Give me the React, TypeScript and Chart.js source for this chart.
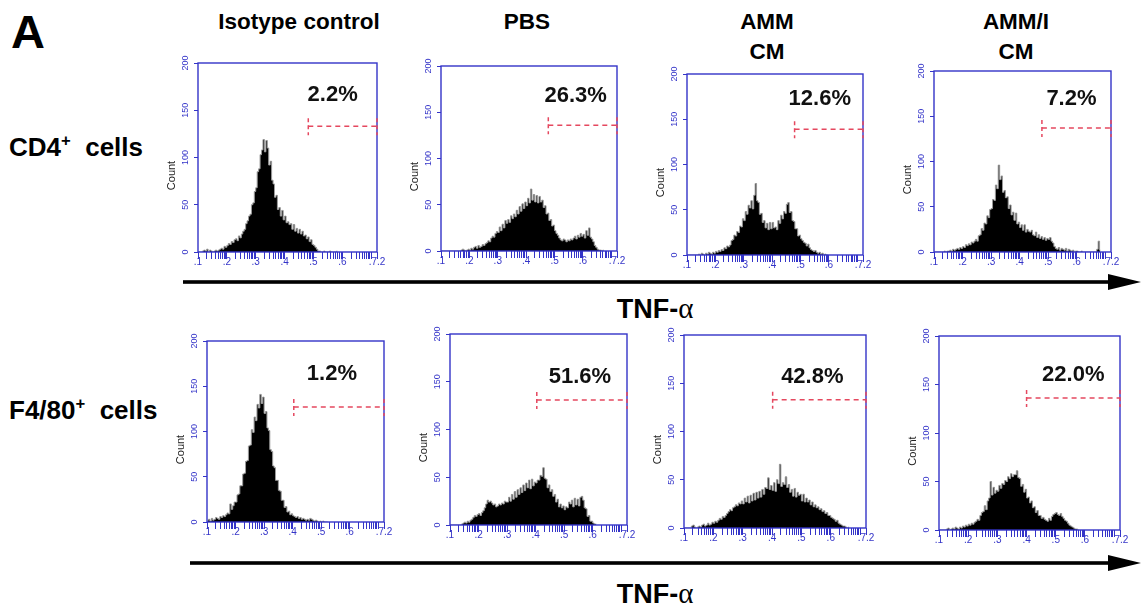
import React, { useEffect, useRef } from "react";
import { Chart, registerables } from "chart.js";

Chart.register(...registerables);

// ---------- data ----------
const BIN_START = 1.0;
const BIN_WIDTH = 0.05;
const X_MIN = 1;
const X_MAX = 7.2;
const Y_TICKS = [0, 50, 100, 150, 200];
const X_MAJOR_VALUES = [1, 2, 3, 4, 5, 6, 7.2];
const X_MAJOR_LABELS = [".1", ".2", ".3", ".4", ".5", ".6", ".7.2"];
const DECADES = [1, 2, 3, 4, 5, 6, 7];
const MINOR_FACTORS = [1, 2, 3, 4, 5, 6, 7, 8, 9];

const columnHeaders = [["Isotype control"], ["PBS"], ["AMM", "CM"], ["AMM/I", "CM"]];
const rowLabels = [["CD4", "+", "  cells"], ["F4/80", "+", "  cells"]];
const axisLabel = "TNF-";
const axisGreek = "α";

const cd4Isotype = [0,0,0,1, 2,1,3,0,2,1, 0,1,2,1,2,3, 4,3,6,5, 7,9,8,11,10,13, 14,12,17,15,19,22, 24,30,33,38, 40,50,52,64, 68,85,88,103, 108,119,106,118, 110,92,96,76, 72,58,60,45, 47,38,44,34, 38,31,32,29, 30,24,29,22, 25,20,24,19, 22,17,18,14, 16,11,13,8, 7,5,3,1, 1,0,0,1,0,0,0,1,0,0,0,0,1];
const cd4Pbs = [0,0,0,0,0,0,0,0,0,0, 0,0,0,0,1,2,1,0,1,2, 1,3,2,4,5,3,6,4,5,7, 6,8,9,11,10,14,16,15,19,21, 20,26,22,29,25,33,30,34,31,38, 35,40,37,44,40,48,43,51,46,53, 49,57,52,67,55,61,53,60,52,59, 53,55,47,49,40,41,33,34,27,28, 22,19,17,14,12,11,13,12,10,12, 11,13,12,14,16,13,17,15,19,16, 18,14,22,17,25,15,13,10,6,4, 2,1,1,0,1];
const cd4Amm = [0,0,0,0,0,0,0,0,1,0, 2,1,0,2,1,3,2,1,3,2, 4,3,5,4,6,5,8,7,10,9, 11,16,17,22,21,26,25,32,31,40, 38,48,45,55,52,60,51,66,79,60, 58,45,46,36,38,30,35,28,36,29, 36,30,31,28,38,35,44,40,48,46, 56,58,47,48,38,37,29,29,21,22, 18,16,14,13,10,12,8,6,5,4, 5,3,2,3,1,2,0,1,0,0];
const cd4AmmI = [0,0,0,0,0,0,0,1,0,1, 1,2,1,3,2,3,4,3,5,4, 6,5,8,7,9,8,11,10,12,14, 12,18,19,26,24,32,31,40,38,47, 48,58,57,74,70,96,80,84,66,68, 60,61,48,52,41,44,35,43,31,33, 27,30,24,30,22,25,23,22,24,19, 18,22,16,19,15,17,14,16,13,15, 14,16,12,10,6,4,3,5,2,4, 3,2,4,1,3,2,1,2,0,1, 1,0,0,1,0,0,0,0,0,0, 0,0,0,0,3,12,2];
const f480Isotype = [2,3,1,4,2,3,5,4,3,6, 5,7,6,8,10,9,20,14,18,22, 22,30,31,40,40,53,54,67,68,84, 85,102,99,116,112,130,126,141,131,138, 120,122,104,101,80,78,62,60,46,46, 35,34,24,24,16,17,11,12,8,9, 7,6,5,6,4,5,3,4,3,2, 3,2,4,3,2,1,2,1,0,1, 0,1,0,0,0];
const f480Pbs = [0,0,0,0,0,0,0,0,1,2, 3,2,4,3,5,6,8,10,9,11, 12,10,13,15,18,22,26,24,25,23, 21,22,19,20,22,21,23,22,25,24, 24,29,25,32,27,35,29,37,32,39, 34,42,36,44,39,47,38,48,41,45, 44,47,47,52,51,60,49,48,39,42, 35,37,30,32,24,27,19,22,18,20, 16,19,18,24,22,26,19,28,21,27, 20,29,30,26,18,17,9,10,4,4, 2,1,1];
const f480Amm = [0,0,0,0,0,2,3,1,0,1, 2,1,3,4,2,3,5,3,4,6, 5,7,6,8,10,9,12,11,13,15, 17,19,18,21,22,24,23,26,25,28, 25,31,27,33,26,34,28,36,29,37, 31,38,32,40,35,42,41,52,40,44, 39,47,38,50,46,66,43,47,45,53, 42,45,37,40,33,41,32,37,34,35, 28,35,27,31,27,29,24,27,22,24, 21,22,19,20,17,18,15,16,13,13, 11,10,9,7,8,5,4,3,2,2, 1,0,1];
const f480AmmI = [0,0,0,0,0,1,2,0,1,2, 1,3,2,1,3,2,4,3,5,4, 6,5,7,6,8,9,11,10,15,18, 19,25,21,30,33,50,36,44,38,41, 40,46,43,48,47,51,50,55,53,58, 55,57,57,61,54,53,45,47,39,42, 33,34,28,30,23,24,18,20,15,15, 12,13,11,10,9,12,10,14,16,17, 18,16,15,17,14,12,10,9,7,5, 4,3,2,1,1,0];

const histograms = [cd4Isotype, cd4Pbs, cd4Amm, cd4AmmI, f480Isotype, f480Pbs, f480Amm, f480AmmI];
const gateStarts = [4.82, 4.78, 4.79, 4.78, 4.04, 4.04, 4.02, 4.0];
const gateLevels = [133, 136, 139, 137, 127, 131, 133, 136];
const gateLabels = ["2.2%", "26.3%", "12.6%", "7.2%", "1.2%", "51.6%", "42.8%", "22.0%"];

// ---------- layout / style ----------
const PANELS = [
  { area: [198, 63, 377, 252], dx: -10, dy: 25 },
  { area: [441, 66, 617, 251], dx: -7, dy: 23 },
  { area: [687, 74, 863, 255], dx: -9, dy: 24 },
  { area: [934, 71, 1111, 252], dx: -5, dy: 23 },
  { area: [207, 341, 384, 522], dx: -7, dy: 27 },
  { area: [450, 334, 627, 525], dx: -2, dy: 17 },
  { area: [684, 335, 866, 528], dx: -7, dy: 17 },
  { area: [939, 336, 1120, 530], dx: 0, dy: 17 },
];
const PAD_L = 45, PAD_T = 12, PAD_R = 14, PAD_B = 28;
const BLUE = "#3434c8";
const RED = "#e5485f";
const FONT = '"Liberation Sans", Arial, Helvetica, sans-serif';

const xTickValues: number[] = [];
DECADES.forEach((d) => MINOR_FACTORS.forEach((k) => {
  const v = d + Math.log10(k);
  if (v <= X_MAX + 1e-9) xTickValues.push(v);
}));
xTickValues.push(X_MAX);

const decorPlugin = {
  id: "panelDecor",
  afterDraw(chart: any, _args: any, opts: any) {
    const { ctx, chartArea: a, scales } = chart;
    const x = scales.x, y = scales.y;
    ctx.save();
    ctx.strokeStyle = BLUE;
    ctx.lineWidth = 1.4;
    ctx.strokeRect(a.left, a.top, a.right - a.left, a.bottom - a.top);
    ctx.fillStyle = BLUE;
    ctx.font = `9px ${FONT}`;
    ctx.textAlign = "center";
    ctx.textBaseline = "middle";
    for (const v of Y_TICKS) {
      const py = y.getPixelForValue(v);
      ctx.save();
      ctx.translate(a.left - 12, py);
      ctx.rotate(-Math.PI / 2);
      ctx.fillText(String(v), 0, 0);
      ctx.restore();
    }
    ctx.fillStyle = "#222";
    ctx.font = `11px ${FONT}`;
    ctx.save();
    ctx.translate(a.left - 26, (a.top + a.bottom) / 2 + 18);
    ctx.rotate(-Math.PI / 2);
    ctx.fillText("Count", 0, 0);
    ctx.restore();
    const gx0 = x.getPixelForValue(opts.gateStart);
    const gx1 = x.getPixelForValue(X_MAX);
    const gy = y.getPixelForValue(opts.gateLevel);
    ctx.strokeStyle = RED;
    ctx.lineWidth = 1.5;
    ctx.setLineDash([5, 4]);
    ctx.beginPath();
    ctx.moveTo(gx0, gy);
    ctx.lineTo(gx1, gy);
    ctx.stroke();
    ctx.setLineDash([4, 3]);
    ctx.beginPath();
    ctx.moveTo(gx0, gy - 8);
    ctx.lineTo(gx0, gy + 9);
    ctx.moveTo(gx1, gy - 8);
    ctx.lineTo(gx1, gy + 9);
    ctx.stroke();
    ctx.setLineDash([]);
    ctx.fillStyle = "#111";
    ctx.font = `bold 22px ${FONT}`;
    ctx.textAlign = "center";
    ctx.textBaseline = "alphabetic";
    ctx.fillText(opts.label, (gx0 + gx1) / 2 + opts.dx, gy - opts.dy);
    ctx.restore();
  },
};

function HistPanel({ idx }: { idx: number }) {
  const ref = useRef<HTMLCanvasElement | null>(null);
  const p = PANELS[idx];
  const [L, T, R, B] = p.area;
  const w = R - L + PAD_L + PAD_R;
  const h = B - T + PAD_T + PAD_B;
  useEffect(() => {
    const values = histograms[idx];
    const chart = new Chart(ref.current as HTMLCanvasElement, {
      type: "line",
      data: {
        datasets: [
          {
            data: values.map((v, i) => ({ x: BIN_START + BIN_WIDTH * (i + 0.5), y: v })),
            stepped: "middle",
            fill: "origin",
            backgroundColor: "#000",
            borderColor: "#9a9a9a",
            borderWidth: 1,
            pointRadius: 0,
          } as any,
        ],
      },
      options: {
        animation: false,
        responsive: false,
        maintainAspectRatio: false,
        layout: { padding: { left: 0, top: PAD_T, right: PAD_R, bottom: 0 } },
        plugins: {
          legend: { display: false },
          tooltip: { enabled: false },
          panelDecor: {
            gateStart: gateStarts[idx],
            gateLevel: gateLevels[idx],
            label: gateLabels[idx],
            dx: p.dx,
            dy: p.dy,
          },
        } as any,
        scales: {
          x: {
            type: "linear",
            min: X_MIN,
            max: X_MAX,
            afterBuildTicks: (s: any) => {
              s.ticks = xTickValues.map((v) => ({ value: v }));
            },
            afterFit: (s: any) => {
              s.height = PAD_B;
            },
            ticks: {
              autoSkip: false,
              maxRotation: 0,
              minRotation: 0,
              padding: -3,
              color: BLUE,
              font: { size: 10, family: FONT },
              callback: (v: any) => {
                const k = X_MAJOR_VALUES.findIndex((m) => Math.abs(m - Number(v)) < 1e-6);
                return k >= 0 ? X_MAJOR_LABELS[k] : "";
              },
            },
            grid: { drawOnChartArea: false, drawTicks: true, tickLength: 7, color: BLUE, lineWidth: 1 },
            border: { display: false },
          },
          y: {
            min: 0,
            max: 200,
            afterBuildTicks: (s: any) => {
              s.ticks = Y_TICKS.map((v) => ({ value: v }));
            },
            afterFit: (s: any) => {
              s.width = PAD_L;
            },
            ticks: { display: false },
            grid: { drawOnChartArea: false, drawTicks: true, tickLength: 4, color: BLUE, lineWidth: 1 },
            border: { display: false },
          },
        },
      },
      plugins: [decorPlugin as any],
    });
    return () => chart.destroy();
  }, [idx]);
  return (
    <canvas
      ref={ref}
      width={w}
      height={h}
      style={{ position: "absolute", left: L - PAD_L, top: T - PAD_T, width: w, height: h }}
    />
  );
}

function Txt({ x, baseline, size, children, center, weight = "bold", family = FONT, sx = 1 }: any) {
  const top = baseline - 0.8465 * size;
  const style: any = {
    position: "absolute",
    top,
    fontSize: size,
    lineHeight: `${size}px`,
    fontWeight: weight,
    fontFamily: family,
    color: "#000",
    whiteSpace: "pre",
  };
  if (center) {
    style.left = x - 300;
    style.width = 600;
    style.textAlign = "center";
    if (sx !== 1) {
      style.transform = `scaleX(${sx})`;
      style.transformOrigin = "center";
    }
  } else {
    style.left = x;
    if (sx !== 1) {
      style.transform = `scaleX(${sx})`;
      style.transformOrigin = "left";
    }
  }
  return <div style={style}>{children}</div>;
}

const headerCenters = [299, 527, 767, 1016];
const rowBaselines = [156, 419];
const axisBaselines = [318, 603];
const arrowRows = [
  { y: 282, x0: 183 },
  { y: 563, x0: 190 },
];

export default function App() {
  return (
    <div
      style={{
        position: "absolute",
        left: 0,
        top: 0,
        width: 1144,
        height: 613,
        background: "#fff",
        overflow: "hidden",
        fontFamily: FONT,
      }}
    >
      <Txt x={11} baseline={48} size={47}>A</Txt>
      {columnHeaders.map((lines, c) =>
        lines.map((t, j) => (
          <Txt key={`h${c}${j}`} x={headerCenters[c]} baseline={30 + 30 * j} size={22.5} center>
            {t}
          </Txt>
        ))
      )}
      {rowLabels.map((r, i) => (
        <Txt key={`r${i}`} x={9} baseline={rowBaselines[i]} size={25} sx={1.04}>
          {r[0]}
          <span style={{ fontSize: 16, position: "relative", top: -10 }}>{r[1]}</span>
          {r[2]}
        </Txt>
      ))}
      {axisBaselines.map((b, i) => (
        <Txt key={`a${i}`} x={655} baseline={b} size={27} center>
          {axisLabel}
          <span style={{ fontWeight: "normal", fontFamily: '"Liberation Serif", serif', fontSize: 29 }}>{axisGreek}</span>
        </Txt>
      ))}
      <svg width={1144} height={613} style={{ position: "absolute", left: 0, top: 0 }}>
        {arrowRows.map((a, i) => (
          <g key={i}>
            <rect x={a.x0} y={a.y - 1.8} width={1112 - a.x0} height={3.6} fill="#000" />
            <polygon points={`1108,${a.y - 8} 1141,${a.y} 1108,${a.y + 8}`} fill="#000" />
          </g>
        ))}
      </svg>
      {PANELS.map((_, i) => (
        <HistPanel key={i} idx={i} />
      ))}
    </div>
  );
}
